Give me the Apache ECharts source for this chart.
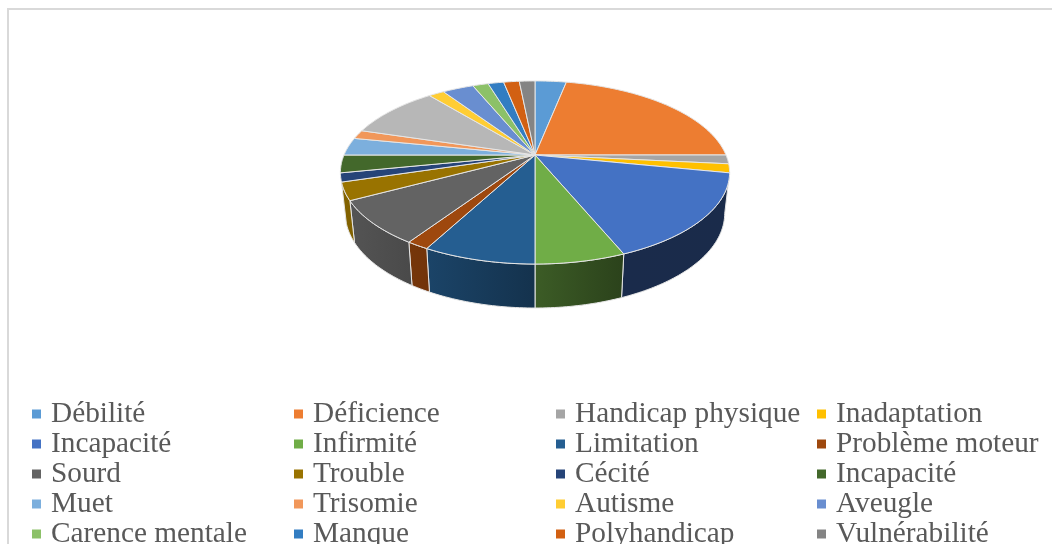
<!DOCTYPE html>
<html>
<head>
<meta charset="utf-8">
<title>Pie</title>
<script src="https://cdn.jsdelivr.net/npm/echarts@6/dist/echarts.min.js"></script>
<style>
  html, body { margin: 0; padding: 0; background: #fff; overflow: hidden; }
  #chart { width: 1052px; height: 544px; }
</style>
</head>
<body>
<div id="chart"></div>
<script>
// slice order, clockwise from the top. the light grey slice has no legend entry
var names = ["Débilité", "Déficience", "Handicap physique", "Inadaptation", "Incapacité", "Infirmité", "Limitation",
  "Problème moteur", "Sourd", "Trouble", "Cécité", "Incapacité", "Muet", "Trisomie", "", "Autisme", "Aveugle",
  "Carence mentale", "Manque", "Polyhandicap", "Vulnérabilité"];
var values = [2, 14, 1, 1, 10, 4, 5, 1, 5, 2, 1, 2, 2, 1, 6, 1, 2, 1, 1, 1, 1];
var colors = ["#5B9BD5", "#ED7D31", "#A5A5A5", "#FFC000", "#4472C4", "#70AD47", "#255E91", "#9E480E", "#636363", "#997300",
  "#264478", "#43682B", "#7CAFDD", "#F1975A", "#B7B7B7", "#FFCD33", "#698ED0", "#8CC168", "#327DC2", "#D26012", "#848484"];
// legend columns, as slice indexes
var legendColumns = [[0, 4, 8, 12, 17], [1, 5, 9, 13, 18], [2, 6, 10, 15, 19], [3, 7, 11, 16, 20]];
var legendLefts = [32, 294, 556, 817];

// perspective of the pie
var cx = 535, cy = 155, radius = 191, tilt = 88.2, persp = 0.191;
var wallFrom = 101.25, wallTo = 253.125;

var total = values.reduce(function (a, b) { return a + b; }, 0);

function project(deg, bottom) {
  var rad = deg * Math.PI / 180;
  var u = Math.sin(rad), v = -Math.cos(rad);
  var s = 1 / (1 - persp * v);
  var x = cx + radius * u * s;
  var y = cy + tilt * v * s;
  if (bottom) {
    x = cx + (x - cx) * 0.975;
    y += 40 + 4 * Math.max(v, 0);
  }
  return [x, y];
}

function arc(from, to, bottom) {
  var pts = [];
  var steps = Math.max(2, Math.ceil(to - from));
  for (var i = 0; i <= steps; i++) {
    pts.push(project(from + (to - from) * i / steps, bottom));
  }
  return pts;
}

function shade(hex, f) {
  var n = parseInt(hex.slice(1), 16);
  return "rgb(" + Math.round((n >> 16) * f) + "," + Math.round(((n >> 8) & 255) * f) + "," + Math.round((n & 255) * f) + ")";
}

// walls get darker from left to right
function wallFactor(x) {
  return Math.min(0.85, Math.max(0.38, 0.85 - (x - 350) * 0.47 / 274));
}

function renderSlice(index) {
  return function (params, api) {
    var start = api.value(1) / total * 360;
    var end = start + api.value(0) / total * 360;
    var color = colors[index];
    var children = [];
    var a0 = Math.max(start, wallFrom), a1 = Math.min(end, wallTo);
    if (a1 - a0 > 0.01) {
      var top = arc(a0, a1, false);
      var low = arc(a0, a1, true).reverse();
      var x0 = Math.min(top[0][0], top[top.length - 1][0]);
      var x1 = Math.max(top[0][0], top[top.length - 1][0]);
      children.push({
        type: "polygon",
        shape: { points: top.concat(low) },
        style: {
          fill: {
            type: "linear", x: x0, y: 0, x2: x1, y2: 0, global: true,
            colorStops: [
              { offset: 0, color: shade(color, wallFactor(x0)) },
              { offset: 1, color: shade(color, wallFactor(x1)) }
            ]
          },
          stroke: "#e6e6e6",
          lineWidth: 1
        }
      });
    }
    children.push({
      type: "polygon",
      shape: { points: [[cx, cy]].concat(arc(start, end, false)) },
      style: { fill: color, stroke: "#e6e6e6", lineWidth: 1 }
    });
    return { type: "group", children: children };
  };
}

var series = [];
var before = 0;
for (var i = 0; i < values.length; i++) {
  series.push({
    type: "custom",
    name: names[i],
    coordinateSystem: "none",
    silent: true,
    itemStyle: { color: colors[i] },
    renderItem: renderSlice(i),
    data: [[values[i], before]]
  });
  before += values[i];
}

var legend = legendColumns.map(function (col, c) {
  return {
    orient: "vertical",
    left: legendLefts[c],
    top: 399,
    height: 200,
    padding: 0,
    itemGap: 0,
    itemWidth: 9,
    itemHeight: 9,
    icon: "rect",
    selectedMode: false,
    textStyle: {
      fontFamily: "Liberation Serif",
      fontSize: 29.3,
      lineHeight: 30,
      color: "#595959",
      padding: [0, 0, 0, 5]
    },
    data: col.map(function (idx) {
      return { name: names[idx], itemStyle: { color: colors[idx] } };
    })
  };
});

var mychart = echarts.init(document.getElementById("chart"));
mychart.setOption({
  animation: false,
  backgroundColor: "#fff",
  graphic: [{
    type: "rect",
    silent: true,
    shape: { x: 8, y: 9, width: 1200, height: 700 },
    style: { fill: "none", stroke: "#d9d9d9", lineWidth: 2 }
  }],
  legend: legend,
  series: series
});
</script>
</body>
</html>
